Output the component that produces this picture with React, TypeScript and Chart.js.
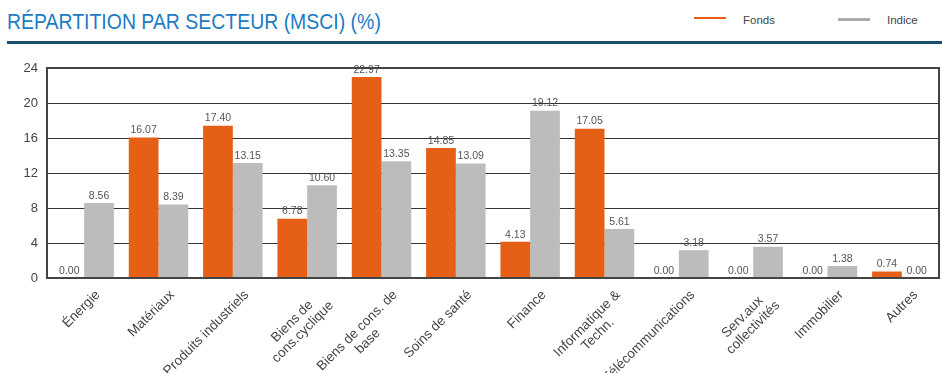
import React, { useEffect, useRef } from "react";
import { Chart, registerables } from "chart.js";

Chart.register(...registerables);

const categories: (string | string[])[] = [
  "Énergie",
  "Matériaux",
  "Produits industriels",
  ["Biens de", "cons.cyclique"],
  ["Biens de cons. de", "base"],
  "Soins de santé",
  "Finance",
  ["Informatique &", "Techn."],
  "Télécommunications",
  ["Serv.aux", "collectivités"],
  "Immobilier",
  "Autres",
];
const fonds = [0.0, 16.07, 17.4, 6.78, 22.97, 14.85, 4.13, 17.05, 0.0, 0.0, 0.0, 0.74];
const indice = [8.56, 8.39, 13.15, 10.6, 13.35, 13.09, 19.12, 5.61, 3.18, 3.57, 1.38, 0.0];
const yTicks = [0, 4, 8, 12, 16, 20, 24];

const ORANGE = "#e56016";
const GREY = "#bcbcbc";
const FONT = "'Liberation Sans', Arial, sans-serif";

const valueLabels = {
  id: "valueLabels",
  afterDatasetsDraw(chart: any) {
    const ctx = chart.ctx;
    ctx.save();
    ctx.font = `10.5px ${FONT}`;
    ctx.fillStyle = "#555";
    ctx.textAlign = "center";
    ctx.textBaseline = "bottom";
    chart.data.datasets.forEach((ds: any, i: number) => {
      const meta = chart.getDatasetMeta(i);
      meta.data.forEach((bar: any, j: number) => {
        ctx.fillText(Number(ds.data[j]).toFixed(2), bar.x, bar.y - 2);
      });
    });
    ctx.restore();
  },
};

const xLabels = {
  id: "xLabels",
  afterDraw(chart: any) {
    const { ctx, chartArea: a } = chart;
    const xs = chart.scales.x;
    ctx.save();
    ctx.font = `13.5px ${FONT}`;
    ctx.fillStyle = "#444";
    ctx.textBaseline = "top";
    ctx.textAlign = "center";
    const lh = 15;
    chart.data.labels.forEach((lab: any, i: number) => {
      const lines: string[] = Array.isArray(lab) ? lab : [lab];
      const maxW = Math.max(...lines.map((l) => ctx.measureText(l).width));
      const px = xs.getPixelForTick(i) + 9;
      const py = a.bottom + 10;
      ctx.save();
      ctx.translate(px, py);
      ctx.rotate(-Math.PI / 4);
      lines.forEach((l, k) => ctx.fillText(l, -maxW / 2, k * lh));
      ctx.restore();
    });
    ctx.restore();
  },
};

const frame = {
  id: "frame",
  afterDraw(chart: any) {
    const { ctx, chartArea: a } = chart;
    ctx.save();
    ctx.strokeStyle = "#444";
    ctx.lineWidth = 2;
    ctx.strokeRect(a.left, a.top, a.right - a.left, a.bottom - a.top);
    ctx.restore();
  },
};

export default function App() {
  const ref = useRef<HTMLCanvasElement>(null);
  useEffect(() => {
    if (!ref.current) return;
    const chart = new Chart(ref.current, {
      type: "bar",
      data: {
        labels: categories,
        datasets: [
          { label: "Fonds", data: fonds, backgroundColor: ORANGE, categoryPercentage: 0.8, barPercentage: 1 },
          { label: "Indice", data: indice, backgroundColor: GREY, categoryPercentage: 0.8, barPercentage: 1 },
        ],
      },
      options: {
        animation: false,
        responsive: false,
        layout: { padding: { top: 68, right: 3, left: 0, bottom: 0 } },
        plugins: { legend: { display: false }, tooltip: { enabled: false }, title: { display: false } },
        scales: {
          x: {
            grid: { display: false },
            border: { display: false },
            ticks: { display: false },
            afterFit: (s: any) => {
              s.height = 95;
            },
          },
          y: {
            min: 0,
            max: 24,
            afterBuildTicks: (s: any) => {
              s.ticks = yTicks.map((v) => ({ value: v }));
            },
            grid: { color: "#333", lineWidth: 1, drawTicks: false },
            border: { display: false },
            ticks: {
              color: "#444",
              font: { family: FONT, size: 13 },
              padding: 9,
            },
            afterFit: (s: any) => {
              s.width = 47;
            },
          },
        },
      },
      plugins: [valueLabels, xLabels, frame],
    });
    return () => chart.destroy();
  }, []);

  return (
    <div style={{ position: "fixed", left: 0, top: 0, width: 942, height: 373, background: "#fff", fontFamily: FONT }}>
      <div
        style={{
          position: "absolute",
          left: 7,
          top: 9,
          fontSize: 22,
          color: "#1b7bc3",
          whiteSpace: "nowrap",
          lineHeight: "26px",
          transform: "scaleX(0.884)",
          transformOrigin: "0 0",
        }}
      >
        RÉPARTITION PAR SECTEUR (MSCI) (%)
      </div>
      <div style={{ position: "absolute", left: 7, top: 41, width: 935, height: 2.5, background: "#17506f" }} />
      <div style={{ position: "absolute", left: 694, top: 16.5, width: 32, height: 2.5, background: ORANGE }} />
      <div style={{ position: "absolute", left: 743, top: 13, fontSize: 11.5, color: "#444", lineHeight: "14px" }}>Fonds</div>
      <div style={{ position: "absolute", left: 838, top: 18, width: 32, height: 2.5, background: "#aaa" }} />
      <div style={{ position: "absolute", left: 887, top: 13, fontSize: 11.5, color: "#444", lineHeight: "14px" }}>Indice</div>
      <canvas ref={ref} width={942} height={373} style={{ position: "absolute", left: 0, top: 0 }} />
    </div>
  );
}
